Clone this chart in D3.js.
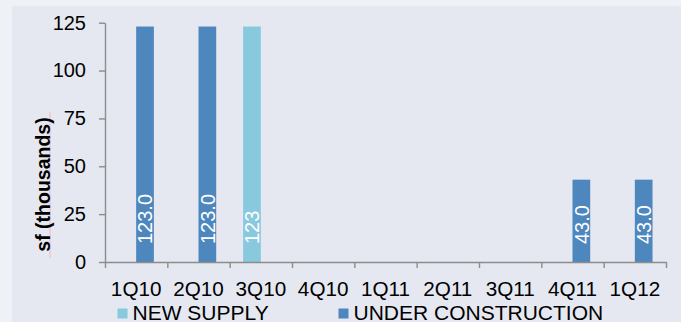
<!DOCTYPE html>
<html>
<head>
<meta charset="utf-8">
<script src="https://cdn.jsdelivr.net/npm/d3@7"></script>
<style>
  body { margin: 0; background: #eef2f6; }
  svg { display: block; font-family: "Liberation Sans", Arial, sans-serif; }
</style>
</head>
<body>
<div id="chart"></div>
<script>
// data
var categories = ["1Q10", "2Q10", "3Q10", "4Q10", "1Q11", "2Q11", "3Q11", "4Q11", "1Q12"];
var seriesNames = ["NEW SUPPLY", "UNDER CONSTRUCTION"];
var newSupply = [0, 0, 123, 0, 0, 0, 0, 0, 0];
var underConstruction = [123, 123, 0, 0, 0, 0, 0, 43, 43];
var yTicks = [0, 25, 50, 75, 100, 125];

var width = 681, height = 322;
var colors = { "NEW SUPPLY": "#88c9de", "UNDER CONSTRUCTION": "#4d87be" };
var labelFormat = { "NEW SUPPLY": d3.format("d"), "UNDER CONSTRUCTION": d3.format(".1f") };

var svg = d3.select("#chart").append("svg")
    .attr("width", width)
    .attr("height", height);

// inner panel
svg.append("rect")
    .attr("x", 12).attr("y", 6)
    .attr("width", width - 12).attr("height", height - 6)
    .attr("fill", "#e5e8f1");

var plotLeft = 105, plotRight = 666, plotTop = 22.7, plotBottom = 262;

var x = d3.scaleBand().domain(categories).range([plotLeft, plotRight]).padding(0);
var barW = 17.7;
var x1 = d3.scaleBand().domain(seriesNames)
    .range([x.bandwidth() / 2 - barW, x.bandwidth() / 2 + barW]);
var y = d3.scaleLinear().domain([0, 125]).range([plotBottom, plotTop]);

var rows = categories.map(function (c, i) {
    return { cat: c, values: [
        { name: seriesNames[0], value: newSupply[i] },
        { name: seriesNames[1], value: underConstruction[i] }
    ] };
});

var groups = svg.append("g").selectAll("g")
    .data(rows)
    .join("g")
    .attr("transform", function (d) { return "translate(" + x(d.cat) + ",0)"; });

var bars = groups.selectAll("g")
    .data(function (d) { return d.values.filter(function (v) { return v.value > 0; }); })
    .join("g");

bars.append("rect")
    .attr("x", function (d) { return x1(d.name); })
    .attr("y", function (d) { return y(d.value); })
    .attr("width", x1.bandwidth())
    .attr("height", function (d) { return y(0) - y(d.value); })
    .attr("fill", function (d) { return colors[d.name]; });

bars.append("text")
    .attr("transform", function (d) {
        return "translate(" + (x1(d.name) + x1.bandwidth() / 2) + "," + (y(0) - 18) + ") rotate(-90)";
    })
    .attr("dy", "0.36em")
    .attr("fill", "#fff")
    .style("font-size", "20px")
    .text(function (d) { return labelFormat[d.name](d.value); });

// y axis
var yAxis = svg.append("g")
    .attr("transform", "translate(" + plotLeft + ",0)")
    .call(d3.axisLeft(y).tickValues(yTicks).tickSize(6).tickSizeOuter(0).tickPadding(13));
yAxis.selectAll("text").style("font-size", "20px").attr("fill", "#000");

// x axis: ticks at category boundaries
var xb = d3.scaleLinear().domain([0, categories.length]).range([plotLeft, plotRight]);
var xAxis = svg.append("g")
    .attr("transform", "translate(0," + plotBottom + ")")
    .call(d3.axisBottom(xb).tickValues(d3.range(categories.length + 1)).tickSize(6)
        .tickSizeOuter(0).tickFormat(""));

var xLabels = svg.append("g")
    .attr("transform", "translate(0," + plotBottom + ")")
    .call(d3.axisBottom(x).tickSize(0).tickPadding(19));
xLabels.select(".domain").remove();
xLabels.selectAll("text").style("font-size", "20.7px").attr("fill", "#000");

svg.selectAll(".domain, .tick line")
    .attr("stroke", "#8c8c8c")
    .attr("stroke-width", 1.4);

// y title
svg.append("line")
    .attr("x1", 50).attr("x2", 50)
    .attr("y1", 112).attr("y2", 258)
    .attr("stroke", "#f2b8c0")
    .attr("stroke-width", 1);

svg.append("text")
    .attr("transform", "translate(43," + ((112 + 257) / 2) + ") rotate(-90)")
    .attr("text-anchor", "middle")
    .attr("dy", "0.36em")
    .style("font-size", "19.5px")
    .style("font-weight", "bold")
    .attr("fill", "#000")
    .text("sf (thousands)");

// legend
var legendX = [117.5, 338.5];
var legend = svg.append("g").selectAll("g")
    .data(seriesNames)
    .join("g")
    .attr("transform", function (d, i) { return "translate(" + legendX[i] + ",308.5)"; });
legend.append("rect")
    .attr("width", 10).attr("height", 10)
    .attr("fill", function (d) { return colors[d]; });
legend.append("text")
    .attr("x", 15)
    .attr("y", 11)
    .style("font-size", "21px")
    .attr("fill", "#000")
    .text(function (d) { return d; });
</script>
</body>
</html>
